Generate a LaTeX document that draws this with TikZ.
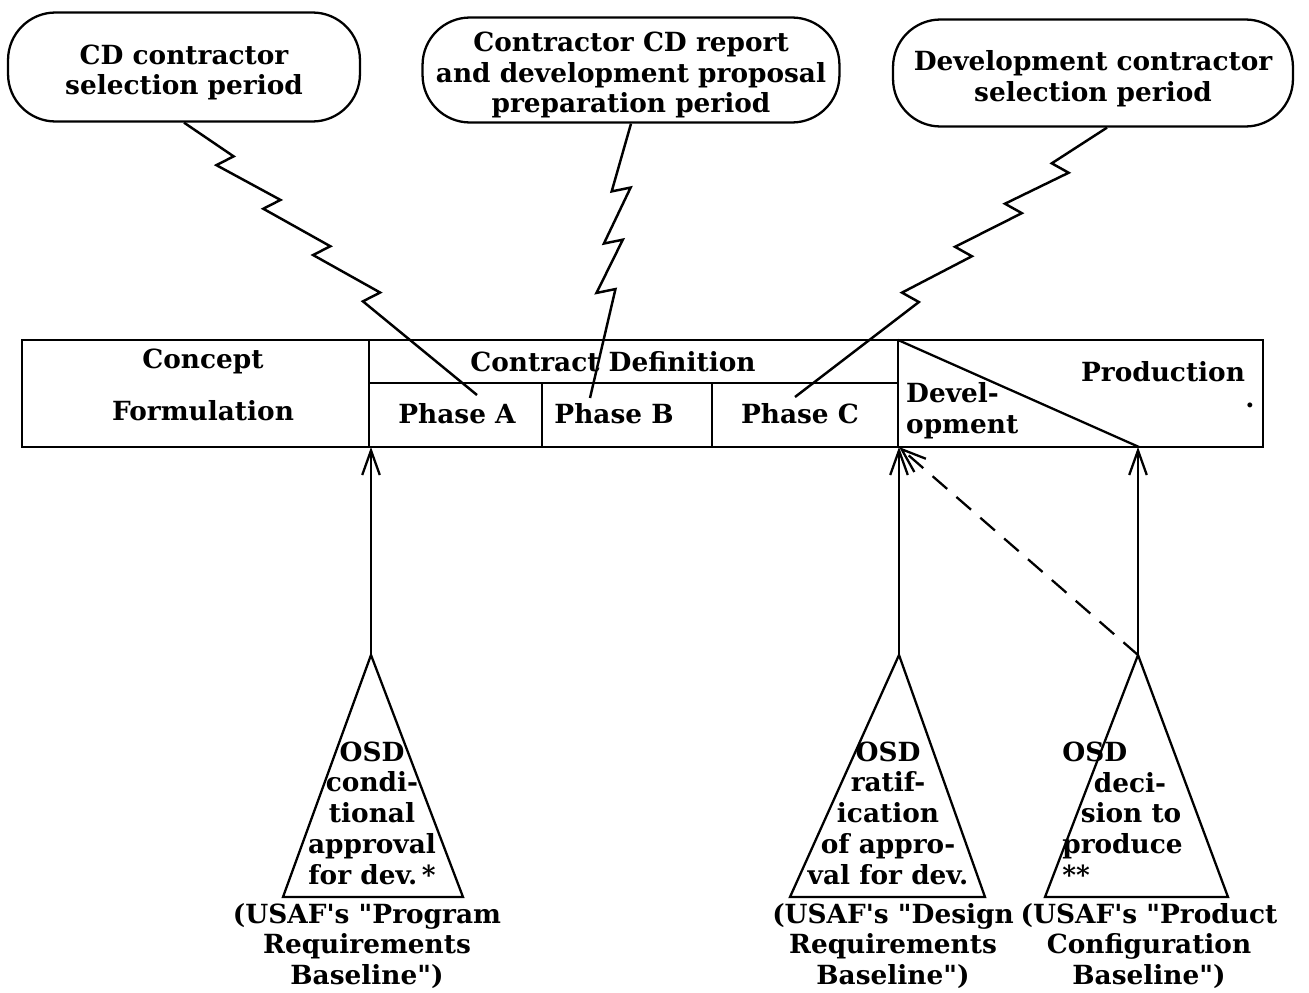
\documentclass[tikz,border=0pt]{standalone}
\usepackage{fontspec}
\setmainfont{DejaVu Serif}[Ligatures=TeXOff]
\usetikzlibrary{calc,arrows.meta}

% lightning connector: from, to, jog angles, jog fractions
\newcommand{\bolt}[5]{%
  \draw[boltline] (#1) \foreach \t in {#5} {
    -- ($(#1)!\t!(#2)!5.5pt!#3:(#2)$) -- ($(#1)!\t!(#2)!5.5pt!#4:(#2)$) } -- (#2);}

\begin{document}
\begin{tikzpicture}[x=0.02cm, y=-0.02cm,
    every node/.style={font=\fontsize{15}{17.5}\selectfont\bfseries},
    bubble/.style={draw, line width=1.3pt, rounded corners=0.95cm, inner sep=0pt},
    boltline/.style={line width=1.4pt, line join=miter},
    rule/.style={line width=1.3pt},
    uparrow/.style={line width=1.3pt, -{Straight Barb[length=14pt,width=10pt,line width=1.3pt]}},
    capt/.style={align=center}
  ]
  \useasboundingbox (0,0) rectangle (1309,993);

  % Period bubbles
  \node[bubble, minimum width=7.04cm, minimum height=2.18cm] (b1) at (184,67) {};
  \node[bubble, minimum width=8.34cm, minimum height=2.1cm] (b2) at (631,70) {};
  \node[bubble, minimum width=8cm, minimum height=2.14cm] (b3) at (1093,73) {};
  \node[capt] (b1t) at ([yshift=-0.11cm]b1.center) {CD contractor\\selection period};
  \node[capt] (b2t) at ([yshift=-0.1cm]b2.center) {Contractor CD report\\and development proposal\\preparation period};
  \node[capt] (b3t) at ([yshift=-0.12cm]b3.center) {Development contractor\\selection period};

  % Phase table
  \draw[rule] (22,340) rectangle (1263,447);
  \draw[rule] (369,340) -- (369,447);
  \draw[rule] (898,340) -- (898,447);
  \draw[rule] (369,383) -- (898,383);
  \draw[rule] (542,383) -- (542,447);
  \draw[rule] (712,383) -- (712,447);
  \draw[rule] (898,340) -- (1139,447);

  \node[capt] (concept) at (203,385) {Concept\\[12pt]Formulation};
  \node (cdef) at (613,362) {Contract Definition};
  \node (pha) at (457,414) {Phase A};
  \node (phb) at (614,414) {Phase B};
  \node (phc) at (800,414) {Phase C};
  \node[align=left, anchor=west] (dev) at (900,411) {Devel-\\opment};
  \node (prod) at (1163,372) {Production};
  \node (dot) at (1250,405) {.};

  % Bolts to the phases
  \coordinate (pa) at (477,395);
  \coordinate (pb) at (590,398);
  \coordinate (pc) at (795,397);
  \coordinate (s3) at ([xshift=0.28cm]b3.south);
  \bolt{b1.south}{pa}{70}{-110}{0.14,0.30,0.47,0.64}
  \bolt{b2.south}{pb}{-70}{110}{0.24,0.43,0.61}
  \bolt{s3}{pc}{-70}{110}{0.15,0.30,0.46,0.63}

  % OSD decision triangles
  \coordinate (t1) at (371,655);
  \coordinate (t2) at (899,655);
  \coordinate (t3) at (1138,655);
  \draw[rule] (t1) -- (283,897) -- (463,897) -- cycle;
  \draw[rule] (t2) -- (790,897) -- (985,897) -- cycle;
  \draw[rule] (t3) -- (1045,897) -- (1228,897) -- cycle;

  \node[capt] (osd1) at (372,813) {OSD\\condi-\\tional\\approval\\for dev.\,*};
  \node[capt] (osd2) at (888,813) {OSD\\ratif-\\ication\\of appro-\\val for dev.};
  \node[align=left, anchor=west, inner sep=0pt] (osd3) at (1062,813) {OSD\\\hspace*{1.2em}deci-\\\hspace*{0.7em}sion to\\produce\\**};

  \node[capt] (usaf1) at (367,946) {(USAF's "Program\\Requirements\\Baseline")};
  \node[capt] (usaf2) at (893,946) {(USAF's "Design\\Requirements\\Baseline")};
  \node[capt] (usaf3) at (1149,946) {(USAF's "Product\\Configuration\\Baseline")};

  % Decision arrows
  \coordinate (q1) at (371,447);
  \coordinate (q2) at (899,447);
  \coordinate (q3) at (1138,447);
  \draw[uparrow] (t1) -- (q1);
  \draw[uparrow] (t2) -- (q2);
  \draw[uparrow] (t3) -- (q3);
  \draw[uparrow, dash pattern=on 11pt off 7pt] (t3) -- (q2);
\end{tikzpicture}
\end{document}
